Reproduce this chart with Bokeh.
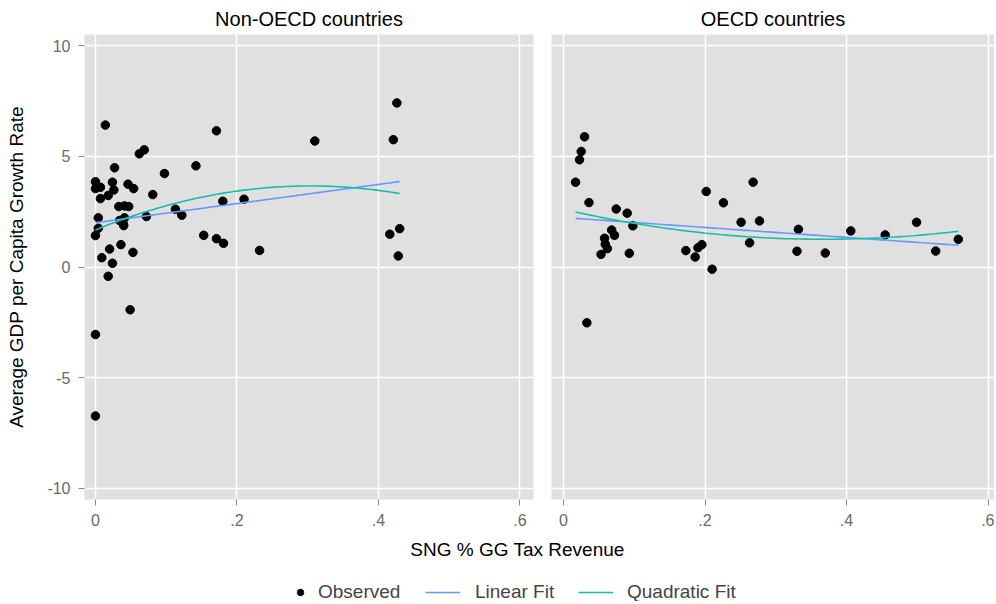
import numpy as np
from bokeh.plotting import figure
from bokeh.layouts import column, row
from bokeh.models import Range1d, Label, Legend, LegendItem, FixedTicker, Title
from bokeh.embed import file_html
from bokeh.resources import INLINE

# ---- data ----
non_x = [0.014, 0.171, 0.062, 0.069, 0.027, 0.142, 0.0975, 0.0, 0.0, 0.007,
         0.024, 0.026, 0.046, 0.054, 0.018, 0.007, 0.081, 0.180, 0.210, 0.033,
         0.041, 0.047, 0.113, 0.122, 0.072, 0.004, 0.041, 0.034, 0.039, 0.040,
         0.004, 0.0, 0.153, 0.171, 0.181, 0.036, 0.020, 0.232, 0.053, 0.009,
         0.024, 0.018, 0.049, 0.0, 0.0, 0.426, 0.421, 0.310, 0.430, 0.416, 0.428]
non_y = [6.41, 6.15, 5.11, 5.29, 4.48, 4.57, 4.22, 3.85, 3.54, 3.60,
         3.83, 3.48, 3.74, 3.54, 3.23, 3.09, 3.27, 2.97, 3.06, 2.73,
         2.76, 2.73, 2.61, 2.34, 2.28, 2.22, 2.22, 2.10, 1.98, 1.87,
         1.75, 1.42, 1.43, 1.28, 1.07, 1.01, 0.81, 0.75, 0.66, 0.42,
         0.17, -0.42, -1.93, -3.05, -6.73, 7.41, 5.75, 5.69, 1.73, 1.48, 0.50]

oecd_x = [0.0297, 0.025, 0.0226, 0.017, 0.036, 0.0745, 0.090, 0.098, 0.068, 0.072,
          0.058, 0.059, 0.062, 0.053, 0.093, 0.033, 0.2017, 0.226, 0.268, 0.251,
          0.277, 0.263, 0.1955, 0.190, 0.1729, 0.186, 0.210, 0.332, 0.330, 0.370,
          0.406, 0.4547, 0.499, 0.526, 0.558]
oecd_y = [5.88, 5.22, 4.84, 3.83, 2.91, 2.62, 2.43, 1.86, 1.67, 1.43,
          1.30, 1.03, 0.83, 0.57, 0.62, -2.52, 3.41, 2.90, 3.83, 2.02,
          2.08, 1.09, 1.01, 0.87, 0.74, 0.45, -0.10, 1.70, 0.71, 0.63,
          1.63, 1.45, 2.02, 0.72, 1.25]

x_ticks = [0, 0.2, 0.4, 0.6]
x_tick_labels = {0: "0", 0.2: ".2", 0.4: ".4", 0.6: ".6"}
y_ticks = [-10, -5, 0, 5, 10]
y_tick_labels = {-10: "-10", -5: "-5", 0: "0", 5: "5", 10: "10"}
panel_titles = ["Non-OECD countries", "OECD countries"]
legend_labels = ["Observed", "Linear Fit", "Quadratic Fit"]

FONT = "Liberation Sans"
BG = "#e0e0e0"
TICK_COL = "#6a6a6a"
LIN_COL = "#6699ff"
QUAD_COL = "#14bfa6"
PT_SIZE = 8.5


def fits(xs, ys):
    xs = np.asarray(xs); ys = np.asarray(ys)
    grid = np.linspace(xs.min(), xs.max(), 120)
    lin = np.polyval(np.polyfit(xs, ys, 1), grid)
    quad = np.polyval(np.polyfit(xs, ys, 2), grid)
    return grid, lin, quad


def style(p, show_y):
    p.background_fill_color = BG
    p.border_fill_color = "white"
    p.outline_line_color = None
    p.xgrid.ticker = FixedTicker(ticks=x_ticks)
    p.ygrid.ticker = FixedTicker(ticks=y_ticks)
    p.grid.grid_line_color = "white"
    p.grid.grid_line_width = 1.5
    p.xaxis.ticker = FixedTicker(ticks=x_ticks)
    p.xaxis.major_label_overrides = x_tick_labels
    axes = list(p.xaxis) + (list(p.yaxis) if show_y else [])
    for ax in axes:
        ax.axis_line_color = None
        ax.major_tick_line_color = "#8a8a8a"
        ax.major_tick_out = 6
        ax.major_tick_in = 0
        ax.minor_tick_line_color = None
        ax.major_label_text_font = FONT
        ax.major_label_text_font_size = "16px"
        ax.major_label_text_color = TICK_COL
        ax.major_label_standoff = 8
    if show_y:
        p.yaxis.ticker = FixedTicker(ticks=y_ticks)
        p.yaxis.major_label_overrides = y_tick_labels
        p.yaxis.axis_label = "Average GDP per Capita Growth Rate"
        p.yaxis.axis_label_text_font = FONT
        p.yaxis.axis_label_text_font_size = "19px"
        p.yaxis.axis_label_text_font_style = "normal"
        p.yaxis.axis_label_text_color = "black"
        p.yaxis.axis_label_standoff = 17


def panel(title, xs, ys, show_y, x_start, fw, mbl, mbr, toff):
    p = figure(frame_width=fw, frame_height=465,
               x_range=Range1d(x_start, x_start + fw / 707.5),
               y_range=Range1d(-10.5, 10.5),
               output_backend="svg", toolbar_location=None,
               y_axis_location="left" if show_y else None,
               min_border_left=mbl, min_border_right=mbr,
               min_border_top=34, min_border_bottom=38)
    p.title = Title(text=title, align="center", text_font=FONT,
                    text_font_size="20px", text_font_style="normal",
                    text_color="black", offset=toff, standoff=10)
    style(p, show_y)
    g, lin, quad = fits(xs, ys)
    p.scatter(xs, ys, size=PT_SIZE, color="black")
    p.line(g, lin, line_color=LIN_COL, line_width=1.6)
    p.line(g, quad, line_color=QUAD_COL, line_width=1.6)
    return p


p1 = panel(panel_titles[0], non_x, non_y, True, -0.0155, 449, 84, 9, -4)
p2 = panel(panel_titles[1], oecd_x, oecd_y, False, -0.017, 443, 9, 0, 4)

# bottom strip: shared x label + legend
H3 = 64
p3 = figure(width=994, height=H3, x_range=Range1d(0, 994), y_range=Range1d(0, H3),
            output_backend="svg", toolbar_location=None,
            min_border=0, x_axis_location=None, y_axis_location=None)
p3.grid.visible = False
p3.outline_line_color = None
p3.background_fill_color = "white"
p3.add_layout(Label(x=517, y=H3 - 12, text="SNG % GG Tax Revenue", text_font=FONT,
                    text_font_size="19px", text_align="center",
                    text_baseline="middle", text_color="black"))
# legend proxies (single point far outside the visible range)
r_obs = p3.scatter([-100], [-100], size=PT_SIZE, color="black")
r_lin = p3.line([-100, -90], [-100, -100], line_color=LIN_COL, line_width=1.6)
r_quad = p3.line([-100, -90], [-100, -100], line_color=QUAD_COL, line_width=1.6)


def add_key(label, rend, x, gw, standoff):
    lg = Legend(items=[LegendItem(label=label, renderers=[rend])],
                location=(x, -2), label_text_font=FONT, label_text_font_size="19px",
                glyph_width=gw, glyph_height=20, label_standoff=standoff,
                padding=0, margin=0, border_line_color=None,
                background_fill_alpha=0)
    p3.add_layout(lg)


add_key(legend_labels[0], r_obs, 292, 16, 10)
add_key(legend_labels[1], r_lin, 425, 35, 15)
add_key(legend_labels[2], r_quad, 578, 35, 14)

layout = column(row(p1, p2), p3)
open("out.html", "w").write(file_html(layout, INLINE))
